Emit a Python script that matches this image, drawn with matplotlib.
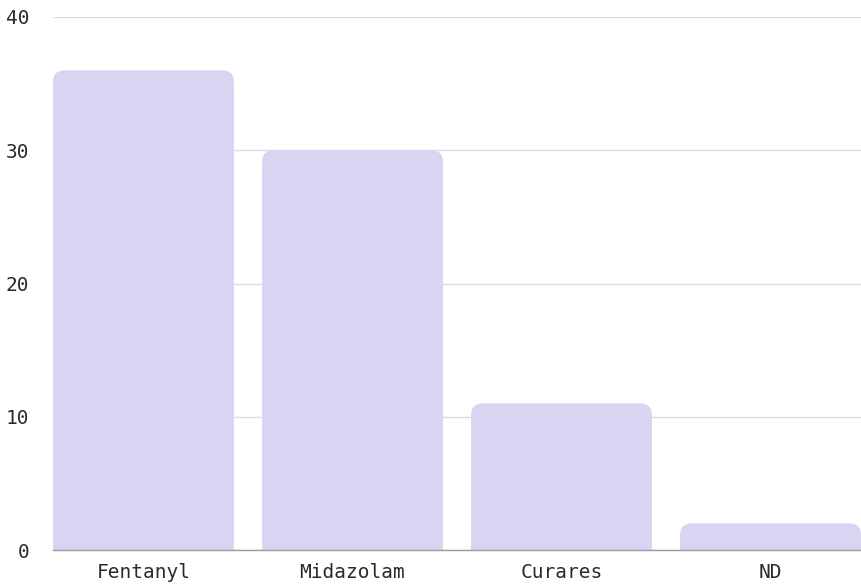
import matplotlib
matplotlib.use("Agg")
import matplotlib.pyplot as plt
from matplotlib.patches import FancyBboxPatch, Rectangle

categories = ["Fentanyl", "Midazolam", "Curares", "ND"]
values = [36, 30, 11, 2]
y_ticks = [0, 10, 20, 30, 40]

BAR_COLOR = "#dad3f1"
GRID_COLOR = "#dcdcdc"
BASE_COLOR = "#9a9a9a"
TEXT_COLOR = "#2a2a2a"

W, H, DPI = 861, 586, 100
fig = plt.figure(figsize=(W / DPI, H / DPI), dpi=DPI)
ax = fig.add_axes([53 / W, 1 - 550 / H, 1 - 53 / W, (550 - 17) / H])

bar_w = 0.866
x = list(range(len(categories)))
ax.set_xlim(-bar_w / 2, len(categories) - 1 + bar_w / 2)
ax.set_ylim(0, 40)

bars = ax.bar(x, values, width=bar_w, color=BAR_COLOR, zorder=2)

# convert a 12 px corner radius into data units on each axis
fig.canvas.draw()
bbox = ax.get_window_extent()
px_per_x = bbox.width / (ax.get_xlim()[1] - ax.get_xlim()[0])
px_per_y = bbox.height / (ax.get_ylim()[1] - ax.get_ylim()[0])
rx = 12 / px_per_x
ry = 12 / px_per_y

# replace plain bars with top-rounded bars
for b in bars:
    bx, by = b.get_x(), b.get_y()
    bw, bh = b.get_width(), b.get_height()
    b.set_visible(False)
    ax.add_patch(FancyBboxPatch((bx, by), bw, bh,
                                boxstyle=f"round,pad=0,rounding_size={rx}",
                                mutation_aspect=ry / rx,
                                facecolor=BAR_COLOR, edgecolor="none", zorder=2))
    ax.add_patch(Rectangle((bx, by), bw, min(bh / 2, bh - ry),
                           facecolor=BAR_COLOR, edgecolor="none", zorder=2))

ax.set_yticks(y_ticks)
ax.set_xticks(x)
ax.set_xticklabels(categories)
ax.yaxis.grid(True, color=GRID_COLOR, linewidth=1, zorder=0)
ax.set_axisbelow(True)

for s in ["top", "right", "left"]:
    ax.spines[s].set_visible(False)
ax.spines["bottom"].set_color(BASE_COLOR)
ax.spines["bottom"].set_linewidth(1)
ax.spines["bottom"].set_zorder(3)

ax.tick_params(axis="both", length=0, labelsize=14, labelcolor=TEXT_COLOR)
ax.tick_params(axis="y", pad=17)
ax.tick_params(axis="x", pad=9)
for lab in ax.get_xticklabels() + ax.get_yticklabels():
    lab.set_fontfamily("DejaVu Sans Mono")

fig.savefig("out.png", dpi=DPI)
